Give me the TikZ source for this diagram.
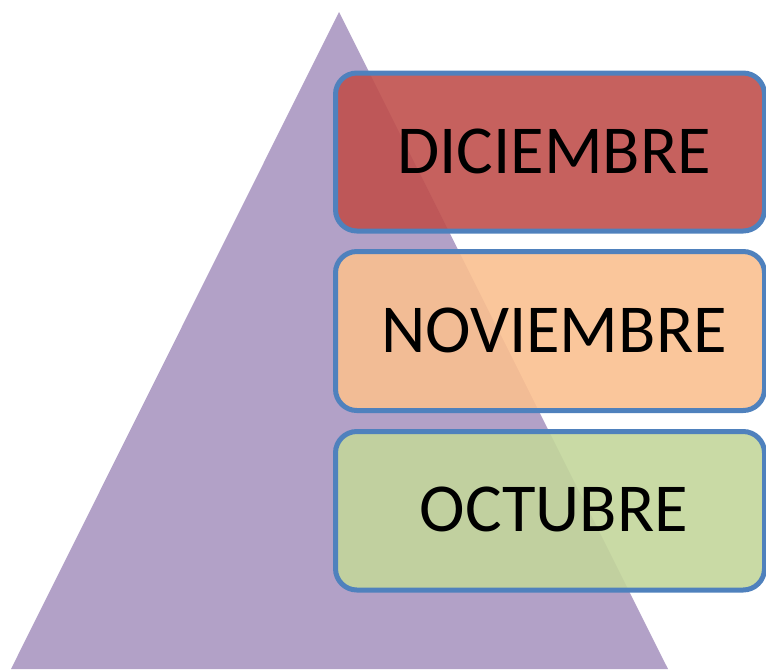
\documentclass[tikz,border=0pt]{standalone}
\usepackage{fontspec}
\setmainfont{Carlito}
\definecolor{tri}{HTML}{B2A1C7}
\definecolor{redbox}{HTML}{C0504D}
\definecolor{orangebox}{HTML}{FAC090}
\definecolor{greenbox}{HTML}{C3D69B}
\definecolor{edge}{HTML}{4F81BD}
\tikzset{
  monthbox/.style={draw=edge, line width=3.75pt, rounded corners=16pt, fill opacity=0.9},
  monthlabel/.style={font=\fontsize{51.5}{60}\selectfont, text=black, anchor=center}
}
\begin{document}
\begin{tikzpicture}[x=0.75pt,y=-0.75pt]
\useasboundingbox (0,0) rectangle (766,669);
\fill[tri] (339,12) -- (11,669) -- (668,669) -- cycle;
\draw[monthbox, fill=redbox] (335.5,73) rectangle (764.5,231);
\draw[monthbox, fill=orangebox] (335.5,251.5) rectangle (764.5,410.5);
\draw[monthbox, fill=greenbox] (335.5,431.5) rectangle (764.5,590);
\node[monthlabel] (dic) at (554,151.5) {DICIEMBRE};
\node[monthlabel] (nov) at (554,330.5) {NOVIEMBRE};
\node[monthlabel] (oct) at (554,509.5) {OCTUBRE};
\end{tikzpicture}
\end{document}
